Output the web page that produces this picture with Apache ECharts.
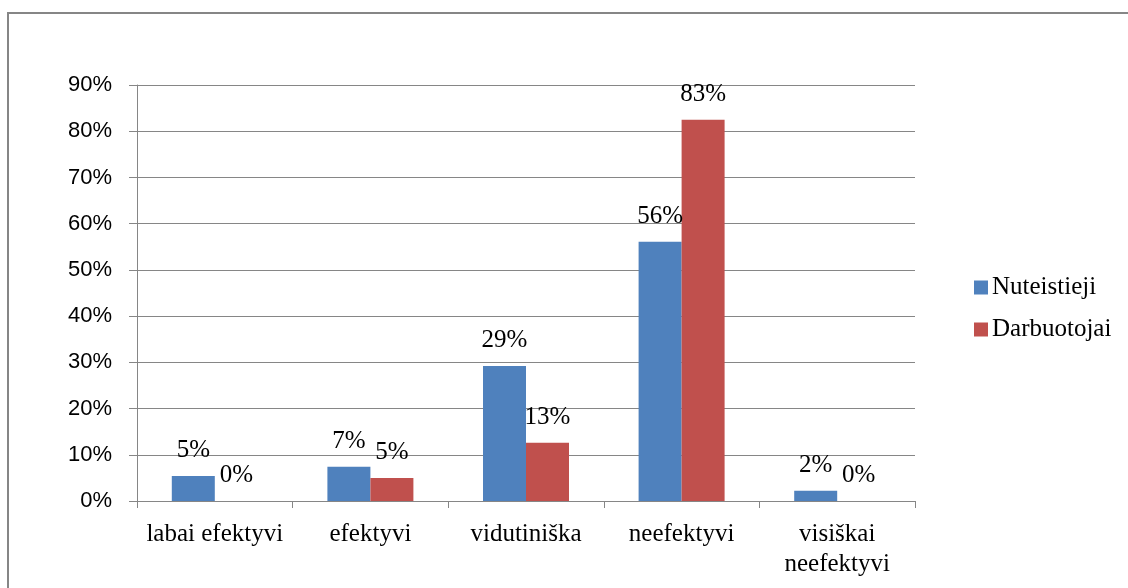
<!DOCTYPE html>
<html>
<head>
<meta charset="utf-8">
<script src="https://cdn.jsdelivr.net/npm/echarts@6/dist/echarts.min.js"></script>
<style>
html, body { margin: 0; padding: 0; background: #fff; }
#main { width: 1128px; height: 588px; }
</style>
</head>
<body>
<div id="main"></div>
<script>
var categories = ["labai efektyvi", "efektyvi", "vidutiniška", "neefektyvi", "visiškai\nneefektyvi"];
var nuteistieji = [5.4, 7.4, 29.2, 56.1, 2.2];
var darbuotojai = [0, 5.0, 12.6, 82.5, 0];
var yTicks = [0, 10, 20, 30, 40, 50, 60, 70, 80, 90];

var serif = "'Liberation Serif', 'DejaVu Serif', serif";
var sans = "'Liberation Sans', Arial, sans-serif";

//柱状图标签
function barLabel() {
    return {
        show: true,
        position: 'top',
        distance: 13,
        color: '#000',
        fontFamily: serif,
        fontSize: 25,
        formatter: function(p) { return Math.round(p.value) + '%'; }
    };
}

var chart = echarts.init(document.getElementById('main'));
chart.setOption({
    animation: false,
    backgroundColor: '#fff',
    graphic: [{
        type: 'rect',
        shape: { x: 8, y: 13, width: 1300, height: 700 },
        style: { fill: 'none', stroke: '#868686', lineWidth: 2 },
        silent: true
    }],
    grid: { left: 137, right: 213, top: 85, bottom: 87, containLabel: false },
    legend: {
        orient: 'vertical',
        left: 969,
        top: 270,
        itemWidth: 14,
        itemHeight: 14,
        itemGap: 17,
        icon: 'rect',
        textStyle: { fontFamily: serif, fontSize: 25, color: '#000', padding: [0, 0, 0, -1] },
        data: ['Nuteistieji', 'Darbuotojai']
    },
    xAxis: {
        type: 'category',
        data: categories,
        axisLine: { lineStyle: { color: '#868686', width: 1 } },
        axisTick: { show: true, length: 7, interval: 0, lineStyle: { color: '#868686' } },
        axisLabel: { interval: 0, margin: 18, color: '#000', fontFamily: serif, fontSize: 25, lineHeight: 30 }
    },
    yAxis: {
        type: 'value',
        min: yTicks[0],
        max: yTicks[yTicks.length - 1],
        interval: 10,
        axisLine: { show: true, lineStyle: { color: '#868686', width: 1 } },
        axisTick: { show: true, length: 8, lineStyle: { color: '#868686' } },
        axisLabel: { margin: 25, color: '#000', fontFamily: sans, fontSize: 22, formatter: '{value}%' },
        splitLine: { lineStyle: { color: '#868686', width: 1 } }
    },
    series: [
        {
            name: 'Nuteistieji',
            type: 'bar',
            data: nuteistieji,
            barWidth: 43,
            barGap: '0%',
            itemStyle: { color: '#4F81BD' },
            label: barLabel()
        },
        {
            name: 'Darbuotojai',
            type: 'bar',
            data: darbuotojai,
            barWidth: 43,
            barGap: '0%',
            itemStyle: { color: '#C0504D' },
            label: barLabel()
        }
    ]
});
</script>
</body>
</html>
